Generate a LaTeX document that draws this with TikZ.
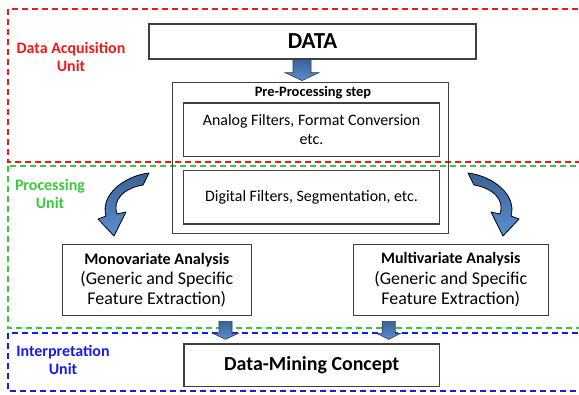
\documentclass[tikz,border=0pt]{standalone}
\usepackage{fontspec}
\setmainfont{Carlito}
\usetikzlibrary{calc}
\definecolor{dred}{RGB}{240,25,25}
\definecolor{dgreen}{RGB}{60,200,60}
\definecolor{dblue}{RGB}{25,25,235}
\definecolor{boxline}{RGB}{64,64,64}
\definecolor{arrtop}{RGB}{58,98,150}
\definecolor{arrbot}{RGB}{92,142,208}
\definecolor{arrline}{RGB}{40,60,90}
\tikzset{
  dashbox/.style={line width=1.3bp, dash pattern=on 6bp off 4bp},
  box/.style={draw=boxline, line width=1.2bp, fill=white, inner sep=0pt, align=center},
  unitlabel/.style={font=\bfseries\fontsize{16}{18.5}\selectfont, align=center},
  blockarr/.style={top color=arrtop, bottom color=arrbot, draw=arrline, line width=0.6bp, line join=miter},
  curvarr/.style={top color=arrtop, bottom color=arrbot, draw=black, line width=0.8bp, line join=round},
}
\newcommand\blkarrow[5]{%
  \path[blockarr] let \p1=#1, \p2=#2 in
    (\x1-#3,\y1) -- (\x1+#3,\y1) -- (\x1+#3,\y2+#5) -- (\x1+#4,\y2+#5) --
    (\x1,\y2) -- (\x1-#4,\y2+#5) -- (\x1-#3,\y2+#5) -- cycle;}
\begin{document}
\begin{tikzpicture}[x=1bp,y=-1bp]
\useasboundingbox (0,0) rectangle (579,394);
\clip (0,0) rectangle (579,394);

% unit regions
\draw[dashbox, dred] (8,9) rectangle (600,162);
\draw[dashbox, dgreen] (8,166) rectangle (600,328);
\draw[dashbox, dblue] (8,333) rectangle (600,391);

\node[unitlabel, text=dred] (lacq) at (71,57) {Data Acquisition\\Unit};
\node[unitlabel, text=dgreen] (lproc) at (50,194) {Processing\\Unit};
\node[unitlabel, text=dblue] (lint) at (63,360) {Interpretation\\Unit};

% boxes
\node[box, minimum width=327bp, minimum height=35bp,
  font=\bfseries\fontsize{23}{26}\selectfont] (data) at (312.5,41.5) {DATA};
\node[box, fill=none, minimum width=276bp, minimum height=150.6bp] (pre) at (310.7,158) {};
\node[font=\bfseries\fontsize{14.5}{17}\selectfont] (pretitle) at (313,92.5) {Pre-Processing step};
\node[box, minimum width=255.6bp, minimum height=53.3bp,
  font=\fontsize{16}{19}\selectfont] (analog) at (311.5,129.7) {Analog Filters, Format Conversion\\etc.};
\node[box, minimum width=255.6bp, minimum height=53.3bp,
  font=\fontsize{16}{19}\selectfont] (digital) at (311.5,197.3) {Digital Filters, Segmentation, etc.};
\node[box, minimum width=189bp, minimum height=71.4bp,
  font=\fontsize{18}{20.5}\selectfont] (mono) at (156.8,280)
  {{\bfseries\fontsize{16.2}{20.5}\selectfont Monovariate Analysis}\\(Generic and Specific\\Feature Extraction)};
\node[box, minimum width=195bp, minimum height=71.4bp,
  font=\fontsize{18}{20.5}\selectfont] (multi) at (450.8,280)
  {{\bfseries\fontsize{16}{20.5}\selectfont Multivariate Analysis}\\(Generic and Specific\\Feature Extraction)};
\node[box, minimum width=255.3bp, minimum height=42.7bp,
  font=\bfseries\fontsize{20}{24}\selectfont] (mining) at (311.7,365.3) {Data-Mining Concept};

% block arrows
\coordinate (ax1) at (302,0);
\coordinate (ax2) at (225.5,0);
\coordinate (ax3) at (388.7,0);
\blkarrow{(ax1 |- data.south)}{($(ax1 |- pre.north)+(0,-1.5)$)}{9bp}{17bp}{8bp}
\blkarrow{($(ax2 |- mono.south)+(0,5)$)}{($(ax2 |- mining.north)+(0,-4)$)}{6.5bp}{12.7bp}{6bp}
\blkarrow{($(ax3 |- multi.south)+(0,5)$)}{($(ax3 |- mining.north)+(0,-4)$)}{6.5bp}{12bp}{6bp}

% curved arrows
\path[curvarr] (149,173) .. controls (124,176) and (100,195) .. (106,216)
  -- (98,219) -- (114,236) -- (126,212) -- (117,214)
  .. controls (112,200) and (124,188) .. (143,185) -- cycle;
\begin{scope}[xshift=617bp, xscale=-1]
\path[curvarr] (149,173) .. controls (124,176) and (100,195) .. (106,216)
  -- (98,219) -- (114,236) -- (126,212) -- (117,214)
  .. controls (112,200) and (124,188) .. (143,185) -- cycle;
\end{scope}
\end{tikzpicture}
\end{document}
